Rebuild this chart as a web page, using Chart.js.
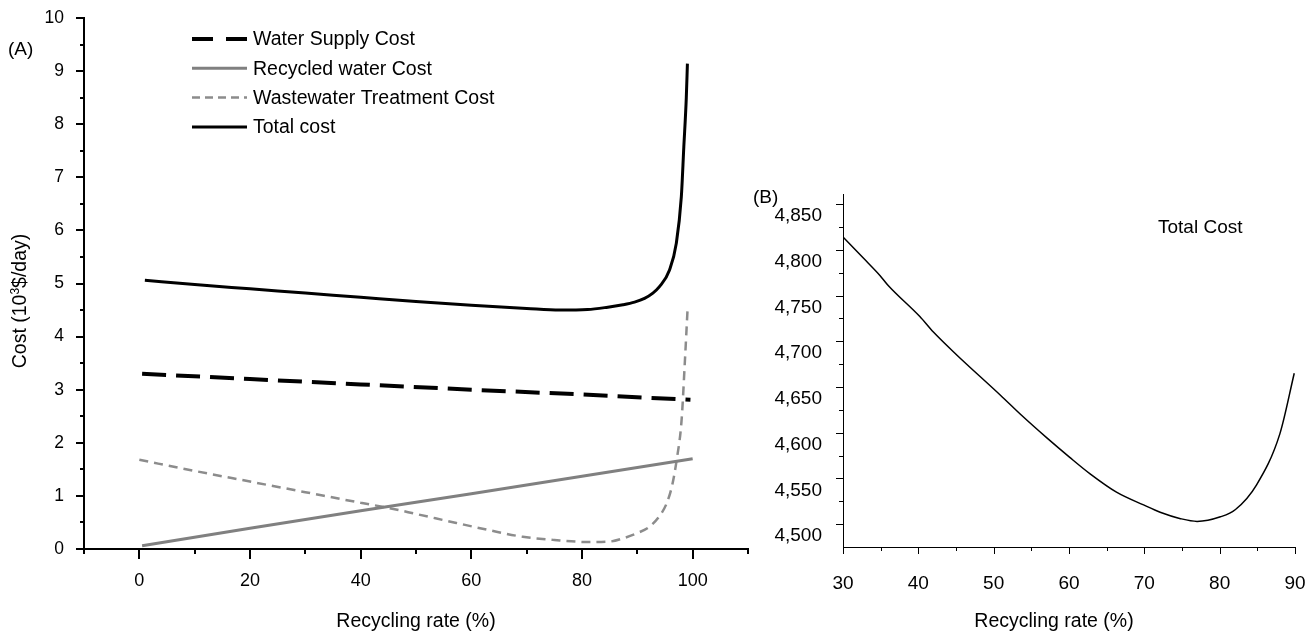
<!DOCTYPE html>
<html><head><meta charset="utf-8">
<script src="https://cdn.jsdelivr.net/npm/chart.js@4.4.1/dist/chart.umd.min.js"></script>
<style>
html,body{margin:0;padding:0;background:#fff;width:1316px;height:636px;overflow:hidden;font-family:'Liberation Sans',Arial,sans-serif;}
#wa{position:absolute;left:0;top:0;width:760px;height:636px;}
#wb{position:absolute;left:760px;top:0;width:556px;height:636px;}
.lbl{position:absolute;font-size:19px;color:#000;white-space:nowrap;line-height:1;font-family:'Liberation Sans',Arial,sans-serif;}
</style></head><body>
<div id="wa"><canvas id="ca" width="760" height="636"></canvas></div>
<div id="wb"><canvas id="cb" width="556" height="636"></canvas></div>
<div class="lbl" style="left:8px;top:39px">(A)</div>
<div class="lbl" style="left:753px;top:187px">(B)</div>
<div class="lbl" style="left:1158px;top:217px">Total Cost</div>
<div class="lbl" style="left:1054px;top:611px;font-size:19.5px;transform:translateX(-50%)">Recycling rate (%)</div>
<div class="lbl" style="left:20px;top:301px;font-size:19.5px;transform:translate(-50%,-50%) rotate(-90deg)">Cost (10<sup style="font-size:12px;vertical-align:7px;line-height:0">3</sup>$/day)</div>
<script>
// ---------- Panel A data ----------
const supplyX = [0.5, 20, 40, 60, 80, 99.6];
const supplyY = [3.30, 3.20, 3.10, 3.00, 2.91, 2.81];
const recycledX = [0.5, 20, 40, 60, 80, 100];
const recycledY = [0.06, 0.39, 0.72, 1.04, 1.37, 1.70];
const wasteX = [0, 10, 20, 30, 40, 45.2, 50, 57.3, 63, 69.3, 75, 81.4, 85, 87.4, 90, 92.2, 94, 95.3, 96.3, 97.1, 98, 98.6, 99.1];
const wasteY = [1.68, 1.47, 1.27, 1.07, 0.87, 0.77, 0.66, 0.49, 0.36, 0.23, 0.17, 0.13, 0.14, 0.20, 0.30, 0.42, 0.62, 0.86, 1.20, 1.67, 2.43, 3.55, 4.56];
const totalX = [1, 10, 20, 30, 40, 50, 60, 70, 76, 81, 84.4, 87.4, 89.5, 91.3, 92.8, 94, 95.8, 97.05, 97.95, 98.4, 98.85, 99.05];
const totalY = [5.06, 4.98, 4.90, 4.82, 4.74, 4.66, 4.59, 4.53, 4.50, 4.51, 4.55, 4.60, 4.65, 4.72, 4.82, 4.94, 5.25, 5.76, 6.63, 7.57, 8.50, 9.14];
const seriesNamesA = ['Water Supply Cost', 'Recycled water Cost', 'Wastewater Treatment Cost', 'Total cost'];
const aXTickValues = [-10, 0, 10, 20, 30, 40, 50, 60, 70, 80, 90, 100, 110];
const aXLabelValues = [0, 20, 40, 60, 80, 100];
const aYTickValues = [0, 0.5, 1, 1.5, 2, 2.5, 3, 3.5, 4, 4.5, 5, 5.5, 6, 6.5, 7, 7.5, 8, 8.5, 9, 9.5, 10];
const aYLabelValues = [0, 1, 2, 3, 4, 5, 6, 7, 8, 9, 10];

// ---------- Panel B data ----------
const bX = [30, 32.7, 34.9, 36, 40.2, 42, 45.1, 50.9, 53.7, 57.1, 60.1, 62.8, 66.3, 69.9, 72.1, 74.8, 77, 80.1, 82.1, 84.9, 88, 89.9];
const bY = [4814, 4791, 4772, 4761, 4727, 4710, 4685, 4641, 4619, 4594, 4573, 4555, 4535, 4521, 4513, 4506, 4503, 4508, 4516, 4543, 4599, 4665];
const bXTickValues = [30, 35, 40, 45, 50, 55, 60, 65, 70, 75, 80, 85, 90];
const bXLabelValues = [30, 40, 50, 60, 70, 80, 90];
const bYTickValues = [4500, 4525, 4550, 4575, 4600, 4625, 4650, 4675, 4700, 4725, 4750, 4775, 4800, 4825, 4850];
const bYLabelValues = [4500, 4550, 4600, 4650, 4700, 4750, 4800, 4850];
const bYLabels = ['4,500', '4,550', '4,600', '4,650', '4,700', '4,750', '4,800', '4,850'];

const FAM = "'Liberation Sans', Arial, sans-serif";
const pts = (xs, ys) => xs.map((x, i) => ({x: x, y: ys[i]}));
const near = (arr, v) => arr.some(a => Math.abs(a - v) < 1e-6);
const zeroPad = s => { s.paddingLeft = 0; s.paddingRight = 0; s.paddingTop = 0; s.paddingBottom = 0; };

function tickMarks(cfg) {
  return {
    id: 'tickMarks',
    afterDraw(chart) {
      const ctx = chart.ctx;
      ctx.save();
      ctx.strokeStyle = '#000';
      for (const id of Object.keys(cfg)) {
        const c = cfg[id];
        const s = chart.scales[id];
        ctx.lineWidth = c.width;
        for (const t of s.ticks) {
          const len = near(c.major, t.value) ? c.majorLen : c.minorLen;
          const p = Math.round(s.getPixelForValue(t.value)) + (c.width % 2 ? 0.5 : 0);
          ctx.beginPath();
          if (s.isHorizontal()) { ctx.moveTo(p, s.top); ctx.lineTo(p, s.top + len); }
          else { ctx.moveTo(s.right, p); ctx.lineTo(s.right - len, p); }
          ctx.stroke();
        }
      }
      ctx.restore();
    }
  };
}

const legendA = {
  id: 'legendA',
  afterDraw(chart) {
    const ctx = chart.ctx;
    ctx.save();
    const x0 = 192, x1 = 247, tx = 253, y0 = 39, dy = 29.3;
    chart.data.datasets.forEach((ds, i) => {
      const y = y0 + i * dy;
      ctx.beginPath();
      ctx.setLineDash(ds.legendDash || []);
      ctx.strokeStyle = ds.borderColor;
      ctx.lineWidth = ds.borderWidth;
      ctx.moveTo(x0, y); ctx.lineTo(x1, y);
      ctx.stroke();
      ctx.setLineDash([]);
      ctx.fillStyle = '#000';
      ctx.font = '19.5px ' + FAM;
      ctx.textBaseline = 'middle';
      ctx.textAlign = 'left';
      ctx.fillText(ds.label, tx, y + 1);
    });
    ctx.restore();
  }
};

new Chart(document.getElementById('ca'), {
  type: 'line',
  data: {
    datasets: [
      {label: seriesNamesA[0], data: pts(supplyX, supplyY), borderColor: '#000', borderWidth: 4, borderDash: [24, 10], legendDash: [21, 13], pointRadius: 0, tension: 0},
      {label: seriesNamesA[1], data: pts(recycledX, recycledY), borderColor: '#808080', borderWidth: 3, pointRadius: 0, tension: 0},
      {label: seriesNamesA[2], data: pts(wasteX, wasteY), borderColor: '#8c8c8c', borderWidth: 2.5, borderDash: [9, 6], legendDash: [8, 5], pointRadius: 0, cubicInterpolationMode: 'monotone'},
      {label: seriesNamesA[3], data: pts(totalX, totalY), borderColor: '#000', borderWidth: 3, pointRadius: 0, cubicInterpolationMode: 'monotone'}
    ]
  },
  options: {
    responsive: false, animation: false, devicePixelRatio: 1,
    layout: {padding: {left: 0, right: 12, top: 18, bottom: 0}},
    plugins: {legend: {display: false}, tooltip: {enabled: false}},
    scales: {
      x: {
        type: 'linear', min: -10, max: 110,
        afterBuildTicks: s => { s.ticks = aXTickValues.map(v => ({value: v})); },
        afterFit: s => { s.height = 87; zeroPad(s); },
        grid: {display: true, drawOnChartArea: false, drawTicks: false},
        border: {display: true, color: '#000', width: 2},
        ticks: {autoSkip: false, maxRotation: 0, padding: 21, color: '#000', font: {family: FAM, size: 18},
          callback: v => near(aXLabelValues, v) ? String(v) : ''},
        title: {display: true, text: 'Recycling rate (%)', color: '#000', font: {family: FAM, size: 19.5}, padding: {top: 0, bottom: 3}}
      },
      y: {
        type: 'linear', min: 0, max: 10,
        afterBuildTicks: s => { s.ticks = aYTickValues.map(v => ({value: v})); },
        afterFit: s => { s.width = 84; zeroPad(s); },
        grid: {display: true, drawOnChartArea: false, drawTicks: false},
        border: {display: true, color: '#000', width: 2},
        ticks: {autoSkip: false, padding: 20, color: '#000', font: {family: FAM, size: 17.5},
          callback: v => near(aYLabelValues, v) ? String(v) : ''}
      }
    }
  },
  plugins: [tickMarks({
    x: {major: aXLabelValues, majorLen: 10, minorLen: 5, width: 2},
    y: {major: aYLabelValues, majorLen: 8, minorLen: 4, width: 2}
  }), legendA]
});

new Chart(document.getElementById('cb'), {
  type: 'line',
  data: {
    datasets: [
      {label: 'Total Cost', data: pts(bX, bY), borderColor: '#000', borderWidth: 1.5, pointRadius: 0, cubicInterpolationMode: 'monotone'}
    ]
  },
  options: {
    responsive: false, animation: false, devicePixelRatio: 1,
    layout: {padding: {left: 0, right: 21, top: 194, bottom: 0}},
    plugins: {legend: {display: false}, tooltip: {enabled: false}},
    scales: {
      x: {
        type: 'linear', min: 30, max: 90,
        afterBuildTicks: s => { s.ticks = bXTickValues.map(v => ({value: v})); },
        afterFit: s => { s.height = 89; zeroPad(s); },
        grid: {display: true, drawOnChartArea: false, drawTicks: false},
        border: {display: true, color: '#000', width: 1},
        ticks: {autoSkip: false, maxRotation: 0, padding: 25, color: '#000', font: {family: FAM, size: 19},
          callback: v => near(bXLabelValues, v) ? String(v) : ''}
      },
      y: {
        type: 'linear', min: 4475, max: 4861,
        afterBuildTicks: s => { s.ticks = bYTickValues.map(v => ({value: v})); },
        afterFit: s => { s.width = 83; zeroPad(s); },
        grid: {display: true, drawOnChartArea: false, drawTicks: false},
        border: {display: true, color: '#000', width: 1},
        ticks: {autoSkip: false, padding: 21, labelOffset: 12, color: '#000', font: {family: FAM, size: 19},
          callback: v => { const i = bYLabelValues.findIndex(a => Math.abs(a - v) < 1e-6); return i >= 0 ? bYLabels[i] : ''; }}
      }
    }
  },
  plugins: [tickMarks({
    x: {major: bXLabelValues, majorLen: 7, minorLen: 4, width: 1},
    y: {major: bYLabelValues, majorLen: 7, minorLen: 4, width: 1}
  })]
});
</script>
</body></html>
